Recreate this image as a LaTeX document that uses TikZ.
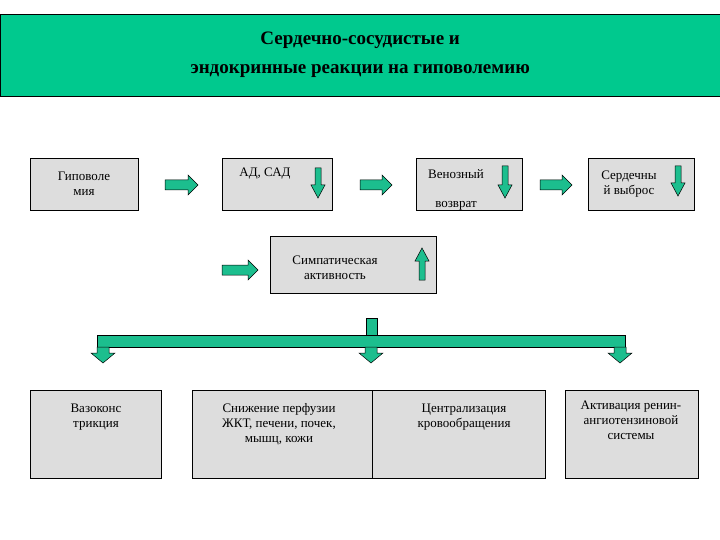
\documentclass[tikz,border=0pt]{standalone}
\usepackage{fontspec}
\setmainfont{Liberation Serif}
\definecolor{grn}{HTML}{00C98E}
\definecolor{agrn}{HTML}{1CBE8E}
\definecolor{gbox}{HTML}{DDDDDD}
\begin{document}
\begin{tikzpicture}[x=1pt,y=-1pt,
  box/.style={draw=black,fill=gbox,line width=0.6pt},
  txt/.style={font=\fontsize{13}{15}\selectfont,align=center},
  barr/.style={draw=black,fill=agrn,line width=0.5pt}]
\useasboundingbox (0,0) rectangle (720,540);
\node[draw=black,fill=grn,minimum width=720,minimum height=82,anchor=north west,inner sep=0,
  font=\fontsize{19}{29}\selectfont\bfseries,align=center] (title) at (0,14)
  {Сердечно-сосудистые и\\эндокринные реакции на гиповолемию};
% right arrows: x0,x1,y
\newcommand\rarrow[3]{\draw[barr] (#1,#3-5) -- (#2-10,#3-5) -- (#2-10,#3-10) -- (#2,#3) -- (#2-10,#3+10) -- (#2-10,#3+5) -- (#1,#3+5) -- cycle;}
\newcommand\darrow[3]{\draw[barr] (#1-3,#2) -- (#1+3,#2) -- (#1+3,#3-13) -- (#1+7,#3-13) -- (#1,#3) -- (#1-7,#3-13) -- (#1-3,#3-13) -- cycle;}
\newcommand\uarrow[3]{\draw[barr] (#1-3,#2) -- (#1+3,#2) -- (#1+3,#3+13) -- (#1+7,#3+13) -- (#1,#3) -- (#1-7,#3+13) -- (#1-3,#3+13) -- cycle;}
\newcommand\wdarrow[3]{\draw[barr] (#1-6,#2) -- (#1+6,#2) -- (#1+6,#3-10) -- (#1+12,#3-10) -- (#1,#3) -- (#1-12,#3-10) -- (#1-6,#3-10) -- cycle;}
\node[box,minimum width=108,minimum height=52,anchor=north west] (b1) at (30,158) {};
\node[txt] (t1) at (84,184) {Гиповоле\\мия};
\node[box,minimum width=110,minimum height=52,anchor=north west] (b2) at (222,158) {};
\node[txt] (t2) at (265,174) {АД, САД};
\begin{scope}
\node[box,minimum width=106,minimum height=52,anchor=north west] (b3) at (416,158) {};
\clip (416,158) rectangle (522,210);
\node[txt] (t3) at (456,174) {Венозный};
\node[txt] (t3b) at (456,206) {возврат};
\end{scope}
\node[box,minimum width=106,minimum height=52,anchor=north west] (b4) at (588,158) {};
\node[txt] (t4) at (629,184) {Сердечны\\й выброс};
\node[box,minimum width=166,minimum height=57,anchor=north west] (b5) at (270,236) {};
\node[txt] (t5) at (335,268) {Симпатическая\\активность};
\rarrow{165}{198}{185}
\rarrow{360}{392}{185}
\rarrow{540}{572}{185}
\rarrow{222}{258}{270}
\darrow{318}{168}{198}
\darrow{505}{166}{198}
\darrow{678}{166}{196}
\uarrow{422}{280}{248}
\draw[barr] (366,318) rectangle (377,335);
\draw[barr] (97,335) rectangle (625,347);
\wdarrow{103}{347}{363}
\wdarrow{371}{347}{363}
\wdarrow{620}{347}{363}
\node[box,minimum width=131,minimum height=88,anchor=north west] (c1) at (30,390) {};
\node[txt,anchor=north] (u1) at (96,400) {Вазоконс\\трикция};
\node[box,minimum width=180,minimum height=88,anchor=north west] (c2) at (192,390) {};
\node[txt,anchor=north] (u2) at (279,400) {Снижение перфузии\\ЖКТ, печени, почек,\\мышц, кожи};
\node[box,minimum width=173,minimum height=88,anchor=north west] (c3) at (372,390) {};
\node[txt,anchor=north] (u3) at (464,400) {Централизация\\кровообращения};
\node[box,minimum width=133,minimum height=88,anchor=north west] (c4) at (565,390) {};
\node[txt,anchor=north] (u4) at (631,397) {Активация ренин-\\ангиотензиновой\\системы};
\end{tikzpicture}
\end{document}
